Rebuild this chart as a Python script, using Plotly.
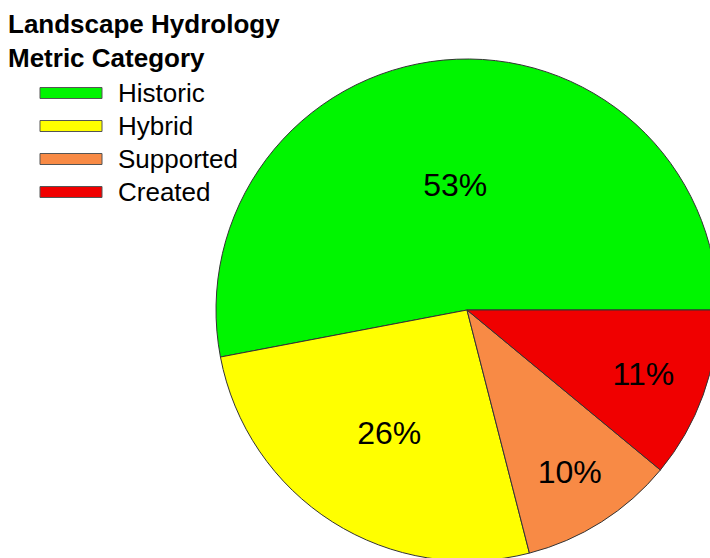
import plotly.graph_objects as go

categories = ["Historic", "Hybrid", "Supported", "Created"]
shares = [53, 26, 10, 11]
colors = ["#00F500", "#FFFF00", "#F88A45", "#F00000"]
legend_title = "Landscape Hydrology<br>Metric Category"

FONT = "Liberation Sans, Arial"
W, H = 730, 572
cx, cy, r = 467, 310, 251

total = sum(shares)
# counterclockwise pie whose first slice begins at 3 o'clock
rotation = 90 - 360 * shares[0] / total

fig = go.Figure(go.Pie(
    labels=categories,
    values=shares,
    sort=False,
    direction="counterclockwise",
    rotation=rotation,
    marker=dict(colors=colors, line=dict(color="#333333", width=1)),
    texttemplate="%{value}%",
    textposition="inside",
    insidetextorientation="horizontal",
    textfont=dict(family=FONT, size=32, color="black"),
    domain=dict(x=[(cx - r) / W, (cx + r) / W], y=[(H - cy - r) / H, (H - cy + r) / H]),
    hoverinfo="label+percent",
    showlegend=False,
))

# legend title
fig.add_annotation(
    text="<b>" + legend_title + "</b>", xref="paper", yref="paper",
    x=6 / W, y=1 - 7 / H, xanchor="left", yanchor="top", showarrow=False, align="left",
    font=dict(family=FONT, size=26, color="black"),
)

# legend entries (wide colour keys as in the reference)
y0, dy = 93, 33
for i, (name, col) in enumerate(zip(categories, colors)):
    yc = y0 + i * dy
    fig.add_shape(
        type="rect", xref="paper", yref="paper",
        x0=40 / W, x1=102 / W, y0=1 - (yc + 5.5) / H, y1=1 - (yc - 5.5) / H,
        fillcolor=col, line=dict(color="#555555", width=1),
    )
    fig.add_annotation(
        text=name, xref="paper", yref="paper",
        x=116 / W, y=1 - yc / H, xanchor="left", yanchor="middle", showarrow=False,
        font=dict(family=FONT, size=26, color="black"),
    )

fig.update_layout(
    width=W, height=H,
    margin=dict(l=0, r=0, t=0, b=0),
    paper_bgcolor="white",
    plot_bgcolor="white",
)

fig.write_html(
    "out.html",
    config=dict(displayModeBar=False),
    post_script="document.documentElement.style.overflow='hidden';document.body.style.overflow='hidden';document.body.style.margin='0';",
)
